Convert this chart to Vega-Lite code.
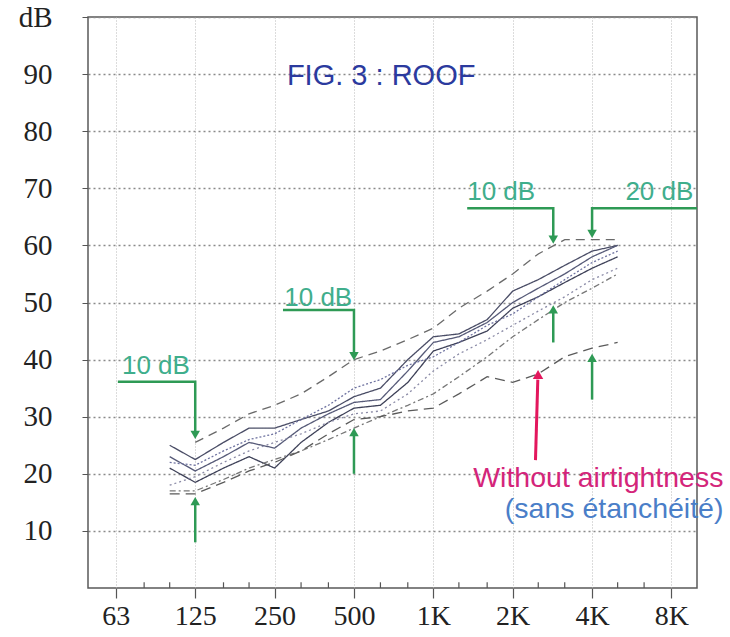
{
"$schema":"https://vega.github.io/schema/vega-lite/v6.json",
"width":609,"height":571,
"autosize":"none",
"padding":{"left":88,"top":17,"right":33,"bottom":49},
"background":"white",
"config":{"view":{"stroke":"#5a5a5a","strokeWidth":1.5},"font":"Liberation Sans"},
"datasets":{
"curves":[
{"s":"A","f":125,"db":25.5},{"s":"A","f":160,"db":28},{"s":"A","f":200,"db":30.5},{"s":"A","f":250,"db":32},{"s":"A","f":315,"db":34},{"s":"A","f":400,"db":37},{"s":"A","f":500,"db":40},{"s":"A","f":630,"db":41.5},{"s":"A","f":800,"db":43.5},{"s":"A","f":1000,"db":45.5},{"s":"A","f":1250,"db":49},{"s":"A","f":1600,"db":52},{"s":"A","f":2000,"db":55},{"s":"A","f":2500,"db":58.5},{"s":"A","f":3150,"db":61},{"s":"A","f":4000,"db":61},{"s":"A","f":5000,"db":61},
{"s":"C","f":100,"db":25},{"s":"C","f":125,"db":22.5},{"s":"C","f":160,"db":25.5},{"s":"C","f":200,"db":28},{"s":"C","f":250,"db":28},{"s":"C","f":315,"db":29.5},{"s":"C","f":400,"db":31},{"s":"C","f":500,"db":33.5},{"s":"C","f":630,"db":35},{"s":"C","f":800,"db":40},{"s":"C","f":1000,"db":44},{"s":"C","f":1250,"db":44.5},{"s":"C","f":1600,"db":47},{"s":"C","f":2000,"db":52},{"s":"C","f":2500,"db":54},{"s":"C","f":3150,"db":56.5},{"s":"C","f":4000,"db":59},{"s":"C","f":5000,"db":60},
{"s":"D","f":100,"db":23},{"s":"D","f":125,"db":20.5},{"s":"D","f":160,"db":23},{"s":"D","f":200,"db":25.5},{"s":"D","f":250,"db":24.5},{"s":"D","f":315,"db":28},{"s":"D","f":400,"db":30.5},{"s":"D","f":500,"db":32.5},{"s":"D","f":630,"db":33},{"s":"D","f":800,"db":38},{"s":"D","f":1000,"db":43},{"s":"D","f":1250,"db":44},{"s":"D","f":1600,"db":46.5},{"s":"D","f":2000,"db":50},{"s":"D","f":2500,"db":52.5},{"s":"D","f":3150,"db":55},{"s":"D","f":4000,"db":58},{"s":"D","f":5000,"db":60},
{"s":"E","f":100,"db":21},{"s":"E","f":125,"db":18.5},{"s":"E","f":160,"db":21},{"s":"E","f":200,"db":23},{"s":"E","f":250,"db":21},{"s":"E","f":315,"db":25.5},{"s":"E","f":400,"db":29},{"s":"E","f":500,"db":31.5},{"s":"E","f":630,"db":32},{"s":"E","f":800,"db":36},{"s":"E","f":1000,"db":41.5},{"s":"E","f":1250,"db":43},{"s":"E","f":1600,"db":45},{"s":"E","f":2000,"db":49},{"s":"E","f":2500,"db":51},{"s":"E","f":3150,"db":53.5},{"s":"E","f":4000,"db":56},{"s":"E","f":5000,"db":58},
{"s":"F","f":100,"db":22},{"s":"F","f":125,"db":21.5},{"s":"F","f":160,"db":24},{"s":"F","f":200,"db":26},{"s":"F","f":250,"db":27},{"s":"F","f":315,"db":29.5},{"s":"F","f":400,"db":32},{"s":"F","f":500,"db":35},{"s":"F","f":630,"db":36.5},{"s":"F","f":800,"db":39},{"s":"F","f":1000,"db":40.5},{"s":"F","f":1250,"db":43},{"s":"F","f":1600,"db":46},{"s":"F","f":2000,"db":48},{"s":"F","f":2500,"db":51},{"s":"F","f":3150,"db":54},{"s":"F","f":4000,"db":57},{"s":"F","f":5000,"db":59},
{"s":"G","f":100,"db":18},{"s":"G","f":125,"db":19.5},{"s":"G","f":160,"db":22},{"s":"G","f":200,"db":24},{"s":"G","f":250,"db":25.5},{"s":"G","f":315,"db":27},{"s":"G","f":400,"db":29},{"s":"G","f":500,"db":30.5},{"s":"G","f":630,"db":31},{"s":"G","f":800,"db":34},{"s":"G","f":1000,"db":38},{"s":"G","f":1250,"db":41},{"s":"G","f":1600,"db":43.5},{"s":"G","f":2000,"db":46},{"s":"G","f":2500,"db":48.5},{"s":"G","f":3150,"db":51},{"s":"G","f":4000,"db":54},{"s":"G","f":5000,"db":56},
{"s":"H","f":100,"db":17},{"s":"H","f":125,"db":17},{"s":"H","f":160,"db":19},{"s":"H","f":200,"db":21},{"s":"H","f":250,"db":22.5},{"s":"H","f":315,"db":24},{"s":"H","f":400,"db":26},{"s":"H","f":500,"db":28},{"s":"H","f":630,"db":30},{"s":"H","f":800,"db":32},{"s":"H","f":1000,"db":34},{"s":"H","f":1250,"db":37},{"s":"H","f":1600,"db":40.5},{"s":"H","f":2000,"db":44},{"s":"H","f":2500,"db":47},{"s":"H","f":3150,"db":50},{"s":"H","f":4000,"db":52.5},{"s":"H","f":5000,"db":55},
{"s":"B","f":100,"db":16.5},{"s":"B","f":125,"db":16.5},{"s":"B","f":160,"db":18.5},{"s":"B","f":200,"db":20.5},{"s":"B","f":250,"db":22},{"s":"B","f":315,"db":24},{"s":"B","f":400,"db":27},{"s":"B","f":500,"db":29.5},{"s":"B","f":630,"db":30},{"s":"B","f":800,"db":31},{"s":"B","f":1000,"db":31.5},{"s":"B","f":1250,"db":34},{"s":"B","f":1600,"db":37},{"s":"B","f":2000,"db":36},{"s":"B","f":2500,"db":37.5},{"s":"B","f":3150,"db":40.5},{"s":"B","f":4000,"db":42},{"s":"B","f":5000,"db":43}
],
"green":[
{"g":"a","i":0,"f":63.6,"db":36.1},{"g":"a","i":1,"f":125,"db":36.1},{"g":"a","i":2,"f":125,"db":27},
{"g":"b","i":0,"f":125,"db":8},{"g":"b","i":1,"f":125,"db":15},
{"g":"c","i":0,"f":269,"db":48.7},{"g":"c","i":1,"f":500,"db":48.7},{"g":"c","i":2,"f":500,"db":41},
{"g":"d","i":0,"f":500,"db":20},{"g":"d","i":1,"f":500,"db":27},
{"g":"e","i":0,"f":1344,"db":66.5},{"g":"e","i":1,"f":2850,"db":66.5},{"g":"e","i":2,"f":2850,"db":61.5},
{"g":"f","i":0,"f":2850,"db":43},{"g":"f","i":1,"f":2850,"db":48.5},
{"g":"h","i":0,"f":10000,"db":66.5},{"g":"h","i":1,"f":4000,"db":66.5},{"g":"h","i":2,"f":4000,"db":62.5},
{"g":"k","i":0,"f":4000,"db":33},{"g":"k","i":1,"f":4000,"db":40}
],
"heads":[
{"f":125,"db":26.8,"dir":"down"},{"f":125,"db":15.2,"dir":"up"},
{"f":500,"db":40.6,"dir":"down"},{"f":500,"db":27.3,"dir":"up"},
{"f":2850,"db":61,"dir":"down"},{"f":2850,"db":48.8,"dir":"up"},
{"f":4000,"db":62,"dir":"down"},{"f":4000,"db":40.3,"dir":"up"}
],
"gtext":[
{"t":"10 dB","f":65.9,"db":37.4},{"t":"10 dB","f":272,"db":49.3},{"t":"10 dB","f":1344,"db":68},{"t":"20 dB","f":5350,"db":68}
],
"red":[{"f":2440,"db":22.4},{"f":2490,"db":36.5}],
"redhead":[{"f":2495,"db":37.4}],
"note_en":[{"t":"Without airtightness","f":12600,"db":17.7}],
"note_fr":[{"t":"(sans étanchéité)","f":12600,"db":12.3}],
"title":[{"t":"FIG. 3 : ROOF","f":634,"db":89.7}],
"minor":[{"f":80},{"f":100},{"f":160},{"f":200},{"f":315},{"f":400},{"f":630},{"f":800},{"f":1250},{"f":1600},{"f":2500},{"f":3150},{"f":5000},{"f":6300}]
},
"layer":[
{"data":{"name":"curves"},
 "mark":{"type":"line","strokeWidth":1.3},
 "encoding":{
  "x":{"field":"f","type":"quantitative","scale":{"type":"log","domain":[49,10000],"nice":false},
   "axis":{"values":[62.5,125,250,500,1000,2000,4000,8000],
    "labelExpr":"datum.value < 100 ? '63' : (datum.value >= 1000 ? (datum.value/1000) + 'K' : datum.label)",
    "title":null,"grid":true,"gridColor":"#b8b8b8","gridDash":[1,2],"gridWidth":1,"domain":false,
    "tickSize":10,"tickColor":"#555","tickWidth":1.2,"labelFont":"Liberation Serif","labelFontSize":28,
    "labelColor":"#222","labelPadding":4,"labelFlush":false,"labelOverlap":false}},
  "y":{"field":"db","type":"quantitative","scale":{"domain":[0,100],"nice":false},
   "axis":{"values":[10,20,30,40,50,60,70,80,90,100],
    "labelExpr":"datum.value == 100 ? 'dB' : datum.label",
    "title":null,"grid":true,"gridColor":"#8a8a8a","gridDash":[2,3],"gridWidth":1.3,"domain":false,
    "tickSize":6,"tickColor":"#555","labelFont":"Liberation Serif","labelFontSize":29,"labelColor":"#222",
    "labelAlign":"right","labelBaseline":"middle","labelLimit":0,
    "labelPadding":30,"labelOverlap":false,"labelFlush":false}},
  "detail":{"field":"s"},
  "color":{"field":"s","type":"nominal","legend":null,
   "scale":{"domain":["A","B","C","D","E","F","G","H"],
    "range":["#6a6a6a","#5a5a5a","#4a4d66","#565a78","#3e4158","#6e72a0","#8a8aa6","#777777"]}},
  "strokeDash":{"field":"s","type":"nominal","legend":null,
   "scale":{"domain":["A","B","C","D","E","F","G","H"],
    "range":[[9,6],[10,6],[1,0],[1,0],[1,0],[2,2],[2,3],[6,3,2,3]]}}
 }},
{"data":{"name":"minor"},
 "mark":{"type":"rule","color":"#555","strokeWidth":1.2},
 "encoding":{"x":{"field":"f","type":"quantitative"},"y":{"datum":0},"y2":{"datum":1}}},
{"data":{"name":"green"},
 "mark":{"type":"line","color":"#2e9a55","strokeWidth":2.5},
 "encoding":{"x":{"field":"f","type":"quantitative"},"y":{"field":"db","type":"quantitative"},
  "detail":{"field":"g"},"order":{"field":"i"}}},
{"data":{"name":"heads"},
 "mark":{"type":"point","filled":true,"color":"#2e9a55","size":90,"opacity":1},
 "encoding":{"x":{"field":"f","type":"quantitative"},"y":{"field":"db","type":"quantitative"},
  "shape":{"field":"dir","type":"nominal","legend":null,
   "scale":{"domain":["down","up"],"range":["triangle-down","triangle-up"]}}}},
{"data":{"name":"gtext"},
 "mark":{"type":"text","align":"left","baseline":"alphabetic","fontSize":26,"color":"#3fae8c","font":"Liberation Sans"},
 "encoding":{"x":{"field":"f","type":"quantitative"},"y":{"field":"db","type":"quantitative"},"text":{"field":"t"}}},
{"data":{"name":"red"},
 "mark":{"type":"line","color":"#e3175d","strokeWidth":3},
 "encoding":{"x":{"field":"f","type":"quantitative"},"y":{"field":"db","type":"quantitative"}}},
{"data":{"name":"redhead"},
 "mark":{"type":"point","filled":true,"color":"#e3175d","size":110,"shape":"triangle-up","opacity":1},
 "encoding":{"x":{"field":"f","type":"quantitative"},"y":{"field":"db","type":"quantitative"}}},
{"data":{"name":"note_en"},
 "mark":{"type":"text","align":"right","baseline":"alphabetic","fontSize":28.5,"font":"Liberation Sans","color":"#d4257a"},
 "encoding":{"x":{"field":"f","type":"quantitative"},"y":{"field":"db","type":"quantitative"},"text":{"field":"t"}}},
{"data":{"name":"note_fr"},
 "mark":{"type":"text","align":"right","baseline":"alphabetic","fontSize":28.5,"font":"Liberation Sans","color":"#4a7ec8"},
 "encoding":{"x":{"field":"f","type":"quantitative"},"y":{"field":"db","type":"quantitative"},"text":{"field":"t"}}},
{"data":{"name":"title"},
 "mark":{"type":"text","align":"center","baseline":"middle","fontSize":29,"color":"#2b3a9e","font":"Liberation Sans"},
 "encoding":{"x":{"field":"f","type":"quantitative"},"y":{"field":"db","type":"quantitative"},"text":{"field":"t"}}}
]
}
